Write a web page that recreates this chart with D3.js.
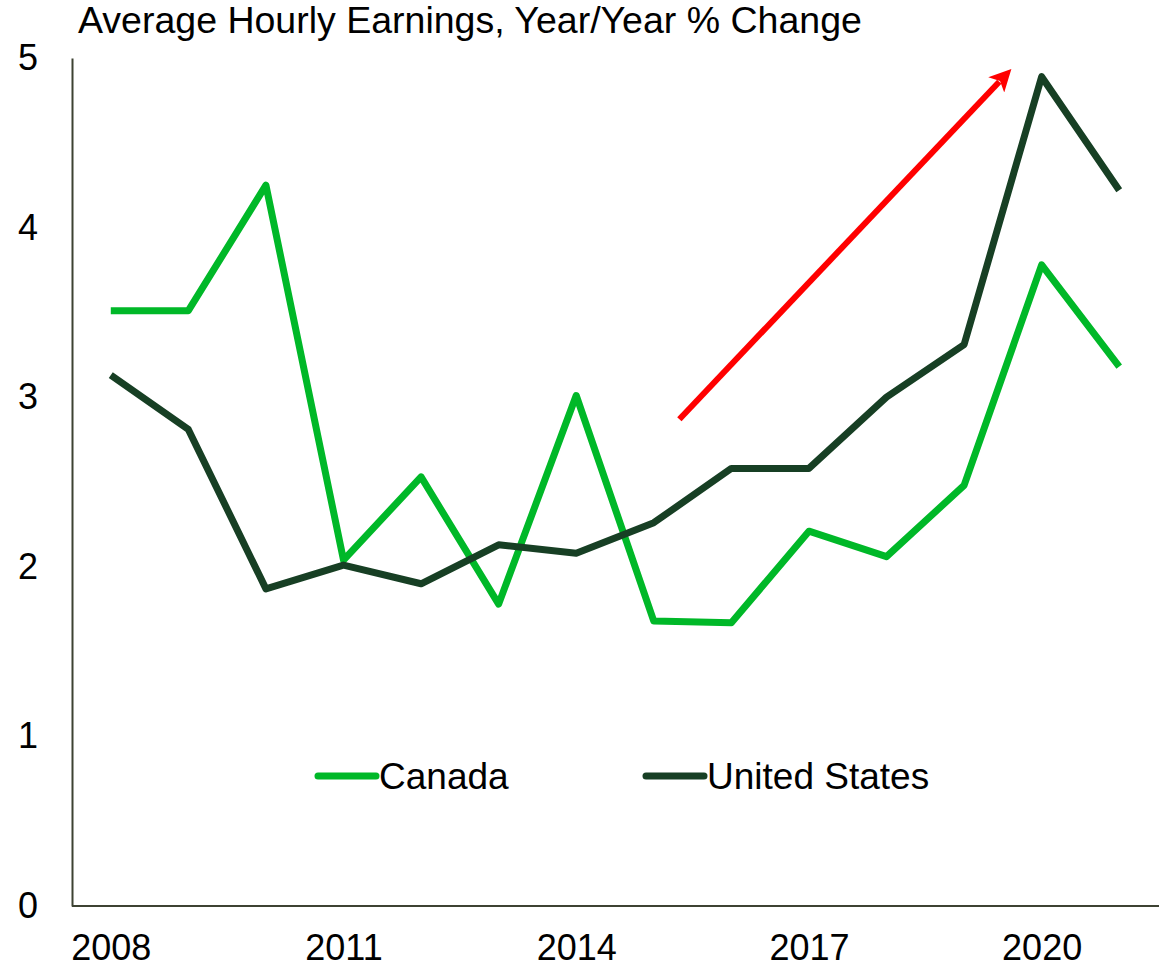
<!DOCTYPE html>
<html>
<head>
<meta charset="utf-8">
<script src="https://cdn.jsdelivr.net/npm/d3@7"></script>
<style>
  body { margin: 0; background: #fff; }
  svg text { font-family: Arial, "Liberation Sans", sans-serif; fill: #000; }
</style>
</head>
<body>
<script>
// data
var years = [2008, 2009, 2010, 2011, 2012, 2013, 2014, 2015, 2016, 2017, 2018, 2019, 2020, 2021];
var canada = [3.51, 3.51, 4.25, 2.04, 2.53, 1.78, 3.01, 1.68, 1.67, 2.21, 2.06, 2.48, 3.78, 3.18];
var unitedStates = [3.13, 2.81, 1.87, 2.01, 1.90, 2.13, 2.08, 2.26, 2.58, 2.58, 3.00, 3.31, 4.89, 4.22];
var yTicks = [0, 1, 2, 3, 4, 5];
var xTicks = [2008, 2011, 2014, 2017, 2020];
// trend arrow, start and end as [year index, value]
var arrowFrom = [7.33, 2.87];
var arrowTo = [11.64, 4.95];

var width = 1170, height = 967;
var margin = {top: 58, right: 12, bottom: 61, left: 72};

var svg = d3.select("body").append("svg")
  .attr("width", width)
  .attr("height", height);

var x = d3.scalePoint()
  .domain(years)
  .range([margin.left, width - margin.right])
  .padding(0.5);

var xi = d3.scaleLinear()
  .domain([0, years.length - 1])
  .range([x(years[0]), x(years[years.length - 1])]);

var y = d3.scaleLinear()
  .domain([0, 5])
  .range([height - margin.bottom, margin.top]);

// title
svg.append("text")
  .attr("x", 78)
  .attr("y", 33)
  .style("font-size", "37.5px")
  .text("Average Hourly Earnings, Year/Year % Change");

// axes
var yAxis = svg.append("g")
  .attr("transform", "translate(" + margin.left + ",0)")
  .call(d3.axisLeft(y).tickValues(yTicks).tickSize(0).tickPadding(34).tickFormat(d3.format("d")));

var xAxis = svg.append("g")
  .attr("transform", "translate(0," + (height - margin.bottom) + ")")
  .call(d3.axisBottom(x).tickValues(xTicks).tickSize(0).tickPadding(28));

[yAxis, xAxis].forEach(function(g) {
  g.select(".domain").attr("stroke", "#3d4232").attr("stroke-width", 2);
  g.selectAll("text")
    .style("font-size", "36px")
    .style("font-family", "Arial, 'Liberation Sans', sans-serif")
    .attr("fill", "#000");
});
xAxis.select(".domain").attr("d", "M" + margin.left + ",0H" + (width - margin.right + 1));

// lines
var line = d3.line()
  .x(function(d, i) { return x(years[i]); })
  .y(function(d) { return y(d); });

var series = [
  {name: "Canada", values: canada, color: "#00b828"},
  {name: "United States", values: unitedStates, color: "#173f24"}
];

series.forEach(function(s) {
  svg.append("path")
    .datum(s.values)
    .attr("fill", "none")
    .attr("stroke", s.color)
    .attr("stroke-width", 7)
    .attr("stroke-linejoin", "round")
    .attr("d", line);
});

// arrow
svg.append("defs").append("marker")
  .attr("id", "head")
  .attr("viewBox", "0 0 10 10")
  .attr("refX", 2)
  .attr("refY", 5)
  .attr("markerUnits", "userSpaceOnUse")
  .attr("markerWidth", 26)
  .attr("markerHeight", 22)
  .attr("orient", "auto")
  .append("path")
  .attr("d", "M0,0L10,5L0,10L2.5,5Z")
  .attr("fill", "#ff0000");

var ax1 = xi(arrowFrom[0]), ay1 = y(arrowFrom[1]);
var ax2 = xi(arrowTo[0]), ay2 = y(arrowTo[1]);
var len = Math.hypot(ax2 - ax1, ay2 - ay1);
var cut = 21;
svg.append("line")
  .attr("x1", ax1)
  .attr("y1", ay1)
  .attr("x2", ax2 - (ax2 - ax1) / len * cut)
  .attr("y2", ay2 - (ay2 - ay1) / len * cut)
  .attr("stroke", "#ff0000")
  .attr("stroke-width", 6)
  .attr("marker-end", "url(#head)");

// legend
var legend = svg.append("g");
var legendX = [318, 646];
series.forEach(function(s, i) {
  legend.append("line")
    .attr("x1", legendX[i]).attr("x2", legendX[i] + 58)
    .attr("y1", 776).attr("y2", 776)
    .attr("stroke", s.color)
    .attr("stroke-width", 7)
    .attr("stroke-linecap", "round");
  legend.append("text")
    .attr("x", legendX[i] + 61)
    .attr("y", 789)
    .style("font-size", "37px")
    .text(s.name);
});
</script>
</body>
</html>
